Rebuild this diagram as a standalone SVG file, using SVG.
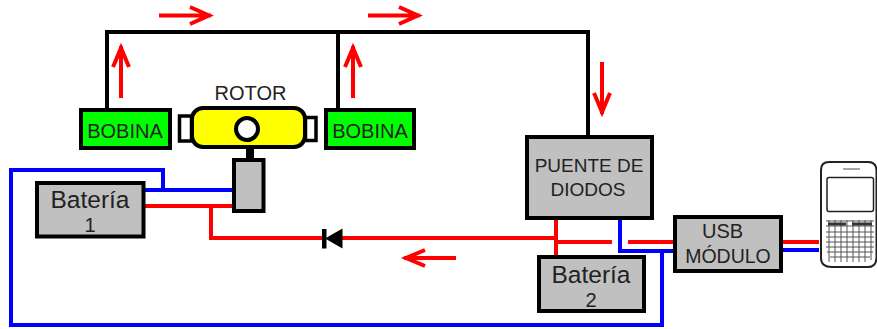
<svg xmlns="http://www.w3.org/2000/svg" width="877" height="329" viewBox="0 0 877 329">
<style>
text{font-family:"Liberation Sans",Arial,sans-serif;fill:#222;text-anchor:middle}
.k{fill:none;stroke:#000;stroke-width:4}
.r{fill:none;stroke:#f00;stroke-width:4}
.b{fill:none;stroke:#00f;stroke-width:4}
.a{fill:none;stroke:#f00;stroke-width:4}
.g{fill:#c0c0c0;stroke:#000;stroke-width:4}
.v{fill:#0f0;stroke:#000;stroke-width:4}
.t{font-size:24.500px}
.d{font-size:20px}
.s{font-size:20px}
</style>
<rect width="877" height="329" fill="#fff"/>
<g id="connectors">
<path class="k" d="M107 108V32H588V135M338 32V108"/>
<path class="b" d="M145 190H232M163 190V170H11V325H662V251M620 219V251H673"/>
<path class="r" d="M145 206H232M211 206V238H322M340 238H556M556 219V255M556 242H612M628 242H673M782 242H819"/>
<path class="b" d="M782 250H819"/>
</g>
<g id="flow-arrows">
<path class="a" d="M159 15.500H211M190 7L209 15.500L190 24"/>
<path class="a" d="M368 15.500H420M399 7L418 15.500L399 24"/>
<path class="a" d="M121 98V46M113 67L121 48L129 67"/>
<path class="a" d="M353 98V46M345 67L353 48L361 67"/>
<path class="a" d="M602 62V114M594 93L602 112L610 93"/>
<path class="a" d="M456 258H404M425 250L406 258L425 266"/>
</g>
<g id="bobina-1"><rect class="v" x="81" y="110" width="89" height="38"/><text class="s" x="125" y="138">BOBINA</text></g>
<g id="bobina-2"><rect class="v" x="326" y="110" width="88" height="38"/><text class="s" x="370" y="138">BOBINA</text></g>
<g id="rotor">
<text class="s" x="250.500" y="100">ROTOR</text>
<rect x="179.500" y="116" width="12" height="25" fill="#fff" stroke="#000" stroke-width="3.500"/>
<rect x="305.500" y="117.500" width="10.500" height="23" fill="#fff" stroke="#000" stroke-width="3.500"/>
<rect x="192" y="108" width="113" height="39" rx="11" fill="#ff0" stroke="#000" stroke-width="4"/>
<circle cx="247" cy="129" r="11" fill="#fff" stroke="#000" stroke-width="4"/>
<rect x="246" y="147" width="8" height="13" fill="#000"/>
</g>
<g id="generador"><rect class="g" x="234" y="160" width="29.500" height="51"/></g>
<g id="bateria-1"><rect class="g" x="37" y="183" width="106.500" height="53.500"/><text class="t" x="90" y="208">Batería</text><text class="d" x="90" y="232">1</text></g>
<g id="diodo"><path d="M342.500 228.500V248.500L325 238.500Z" fill="#000"/><rect x="322" y="229" width="4.500" height="19.500" fill="#000"/></g>
<g id="puente"><rect class="g" x="527" y="137" width="125" height="81"/><text class="s" x="589" y="172" style="font-size:19px">PUENTE DE</text><text class="s" x="588" y="196" style="font-size:19px">DIODOS</text></g>
<g id="bateria-2"><rect class="g" x="539" y="257" width="105" height="54"/><text class="t" x="591" y="283">Batería</text><text class="d" x="591" y="307">2</text></g>
<g id="usb"><rect class="g" x="675" y="217" width="106" height="54"/><text class="s" x="722.500" y="238">USB</text><text class="s" x="728" y="263" style="font-size:19.500px">MÓDULO</text></g>
<g id="telefono" fill="none" stroke="#222">
<path d="M829 162H868Q876 162 876.500 170V258Q876 267 868 267H832Q821 267 821 258V170Q821 162 829 162Z" fill="#fff" stroke-width="2"/>
<rect x="827" y="177.500" width="46.500" height="34" rx="2" fill="#fff" stroke-width="1.500"/>
<path d="M843 169H860" stroke="#888" stroke-width="1.500"/>
<path d="M826 221H874M826 226H874M826 232H874M826 237H874M826 242H874M826 247H874M827 252H873M830 257H870M829 220V262M835 220V262M841 220V262M847 220V262M853 220V262M859 220V262M865 220V262M871 220V260" stroke-width="1" stroke="#555"/>
<path d="M828 224H846M852 224H872" stroke-width="3" stroke="#333"/>
</g>
</svg>
